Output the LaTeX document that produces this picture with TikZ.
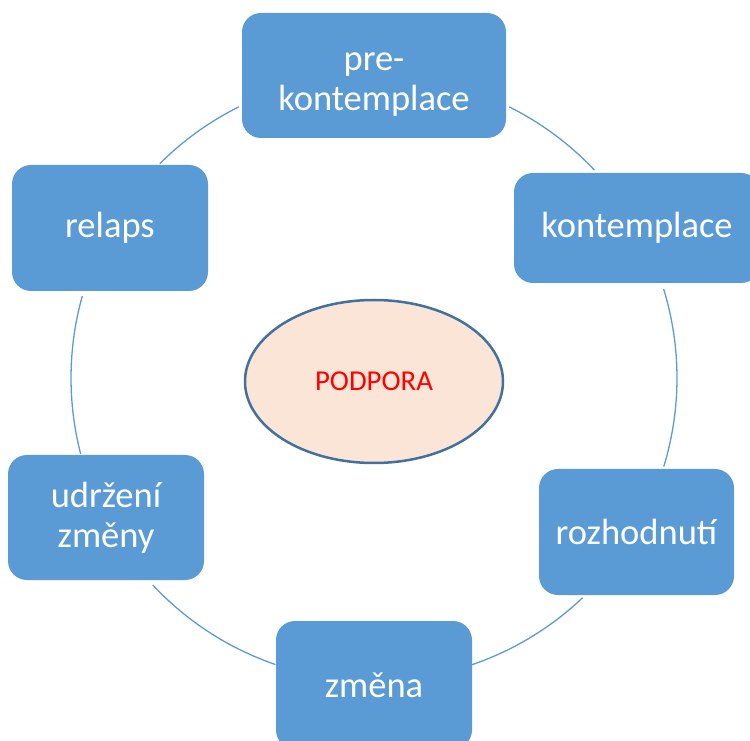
\documentclass[tikz,border=0pt]{standalone}
\usepackage{fontspec}
\setmainfont{Carlito}
\usetikzlibrary{shapes.geometric}
\definecolor{boxblue}{HTML}{5B9BD5}
\definecolor{ellfill}{HTML}{FBE5D6}
\definecolor{elldraw}{HTML}{41719C}
\begin{document}
\begin{tikzpicture}[x=1pt,y=1pt,
  stage/.style={fill=boxblue, rounded corners=19pt, text=white, align=center,
    inner sep=0pt, font=\fontsize{36.5}{40}\selectfont},
  cyc/.style={draw=boxblue, line width=1.3pt},
  center/.style={ellipse, fill=ellfill, draw=elldraw, line width=2.5pt, inner sep=0pt,
    minimum width=258pt, minimum height=163pt, text=red, font=\fontsize{28.8}{30}\selectfont}]
\useasboundingbox (0,0) rectangle (750,740);
\coordinate (c) at (374,362);
% cycle arcs
\draw[cyc] ([shift={(c)}]63.5:303) arc[start angle=63.5, end angle=43.3, radius=303];
\draw[cyc] ([shift={(c)}]17.1:303) arc[start angle=17.1, end angle=-17, radius=303];
\draw[cyc] ([shift={(c)}]-46.5:303) arc[start angle=-46.5, end angle=-71.2, radius=303];
\draw[cyc] ([shift={(c)}]-109:303) arc[start angle=-109, end angle=-136.9, radius=303];
\draw[cyc] ([shift={(c)}]-165.5:303) arc[start angle=-165.5, end angle=-195.7, radius=303];
\draw[cyc] ([shift={(c)}]135:303) arc[start angle=135, end angle=116.5, radius=303];
% stages
\node[stage, minimum width=264pt, minimum height=125pt] (prek) at (374,664.5)
  {\raisebox{-13pt}[0pt][0pt]{\begin{tabular}{@{}c@{}}pre-\\kontemplace\end{tabular}}};
\node[stage, minimum width=246pt, minimum height=110pt] (kont) at (637,512) {kontemplace};
\node[stage, minimum width=195pt, minimum height=126pt] (rozh) at (636.5,208) {rozhodnutí};
\node[stage, minimum width=196pt, minimum height=128pt] (zmena) at (374,55) {změna};
\node[stage, minimum width=196pt, minimum height=125pt] (udrz) at (106,222.5) {udržení\\změny};
\node[stage, minimum width=196pt, minimum height=126pt] (relaps) at (110,512) {relaps};
\node[center] (podpora) at (374,358.5) {PODPORA};
\end{tikzpicture}
\end{document}
